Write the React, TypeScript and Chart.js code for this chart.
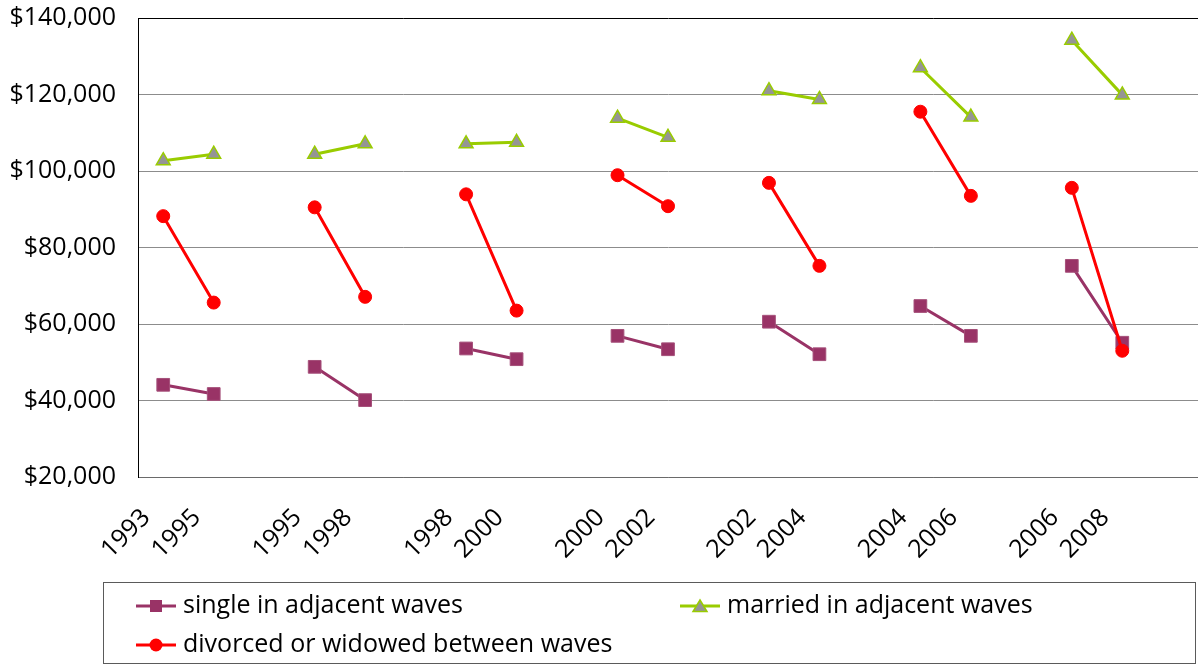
import React, { useEffect, useRef } from 'react';
import { Chart, registerables } from 'chart.js';

Chart.register(...registerables);

// Survey waves, paired; the empty label separates each pair of adjacent waves
const waveLabels = [
  '1993', '1995', '',
  '1995', '1998', '',
  '1998', '2000', '',
  '2000', '2002', '',
  '2002', '2004', '',
  '2004', '2006', '',
  '2006', '2008', '',
];

const singleIncome = [
  44100, 41700, null,
  48800, 40100, null,
  53600, 50800, null,
  56900, 53400, null,
  60600, 52100, null,
  64700, 56900, null,
  75200, 55100, null,
];

const marriedIncome = [
  102700, 104400, null,
  104400, 107100, null,
  107100, 107500, null,
  113800, 108800, null,
  121000, 118700, null,
  127000, 114100, null,
  134200, 119900, null,
];

const divorcedIncome = [
  88200, 65600, null,
  90500, 67100, null,
  93900, 63500, null,
  98900, 90800, null,
  96900, 75200, null,
  115500, 93500, null,
  95600, 53000, null,
];

const seriesNames = [
  'single in adjacent waves',
  'married in adjacent waves',
  'divorced or widowed between waves',
];

const yMin = 20000;
const yMax = 140000;
const yStep = 20000;

const FONT = "'Open Sans', sans-serif";
const PURPLE = '#993366';
const GREEN = '#99CC00';
const TRI_FILL = '#959595';
const RED = '#FF0000';

type MarkerKind = 'rect' | 'triangle' | 'circle';

function LegendIcon({ kind, color }: { kind: MarkerKind; color: string }) {
  return (
    <svg width={40} height={16} style={{ display: 'block' }}>
      <line x1={0} y1={8} x2={40} y2={8} stroke={color} strokeWidth={3} />
      {kind === 'rect' && <rect x={14} y={2} width={12} height={12} fill={color} />}
      {kind === 'circle' && <circle cx={20} cy={8} r={6.5} fill={color} />}
      {kind === 'triangle' && (
        <polygon points="20,2 27,13.5 13,13.5" fill={TRI_FILL} stroke={color} strokeWidth={1.5} />
      )}
    </svg>
  );
}

function LegendEntry({ left, top, kind, color, text }: { left: number; top: number; kind: MarkerKind; color: string; text: string }) {
  return (
    <div style={{ position: 'absolute', left, top, height: 30, display: 'flex', alignItems: 'center', whiteSpace: 'nowrap' }}>
      <div style={{ marginTop: 6 }}>
        <LegendIcon kind={kind} color={color} />
      </div>
      <span style={{ marginLeft: 7, font: `25px ${FONT}`, lineHeight: '30px', color: '#000' }}>{text}</span>
    </div>
  );
}

// Keep the plot area fixed: drop the extra room Chart.js reserves for edge labels
const clearScalePadding = (scale: any) => {
  scale.paddingLeft = 0;
  scale.paddingRight = 0;
  scale.paddingTop = 0;
  scale.paddingBottom = 0;
};

export default function App() {
  const canvasRef = useRef<HTMLCanvasElement | null>(null);

  useEffect(() => {
    document.body.style.margin = '0';
    const canvas = canvasRef.current;
    if (!canvas) return;

    const chart = new Chart(canvas, {
      type: 'line',
      data: {
        labels: waveLabels,
        datasets: [
          {
            label: seriesNames[0],
            data: singleIncome,
            borderColor: PURPLE,
            backgroundColor: PURPLE,
            borderWidth: 3,
            pointStyle: 'rect',
            pointRadius: 9,
            pointBorderWidth: 1,
            pointBackgroundColor: PURPLE,
            pointBorderColor: '#a5507a',
            spanGaps: false,
            order: 1,
          },
          {
            label: seriesNames[1],
            data: marriedIncome,
            borderColor: GREEN,
            backgroundColor: TRI_FILL,
            borderWidth: 3,
            pointStyle: 'triangle',
            pointRadius: 8,
            pointBorderWidth: 1.5,
            pointBackgroundColor: TRI_FILL,
            pointBorderColor: GREEN,
            spanGaps: false,
            order: 2,
          },
          {
            label: seriesNames[2],
            data: divorcedIncome,
            borderColor: RED,
            backgroundColor: RED,
            borderWidth: 3,
            pointStyle: 'circle',
            pointRadius: 6.5,
            pointBorderWidth: 1,
            pointBackgroundColor: RED,
            pointBorderColor: RED,
            spanGaps: false,
            order: 0,
          },
        ],
      },
      options: {
        animation: false,
        responsive: false,
        maintainAspectRatio: false,
        events: [],
        layout: { autoPadding: false, padding: { top: 18, left: 0, right: 0, bottom: 0 } },
        plugins: {
          legend: { display: false },
          tooltip: { enabled: false },
        },
        scales: {
          x: {
            type: 'category',
            offset: true,
            grid: {
              display: true,
              drawOnChartArea: false,
              drawTicks: true,
              tickLength: 56,
              color: 'rgba(0,0,0,0)',
            },
            border: { display: true, color: '#6a6a6a', width: 1 },
            ticks: {
              autoSkip: false,
              maxRotation: 45,
              minRotation: 45,
              padding: -30,
              labelOffset: -17,
              color: '#000',
              font: { family: FONT, size: 25 },
            },
            afterFit: (scale: any) => {
              scale.height = 189;
              clearScalePadding(scale);
            },
          },
          y: {
            min: yMin,
            max: yMax,
            ticks: {
              stepSize: yStep,
              padding: 22,
              color: '#000',
              font: { family: FONT, size: 25 },
              callback: (v: any) => '$' + Number(v).toLocaleString('en-US'),
            },
            grid: {
              drawTicks: false,
              lineWidth: 1,
              color: (ctx: any) => (ctx.tick && ctx.tick.value === yMax ? '#000' : '#8c8c8c'),
            },
            border: { display: true, color: '#000', width: 1 },
            afterFit: (scale: any) => {
              scale.width = 138;
              clearScalePadding(scale);
            },
          },
        },
      },
    });

    return () => {
      chart.destroy();
    };
  }, []);

  return (
    <div style={{ position: 'fixed', left: 0, top: 0, width: 1198, height: 666, background: '#fff' }}>
      <canvas ref={canvasRef} width={1198} height={666} style={{ position: 'absolute', left: 0, top: 0 }} />
      <div
        style={{
          position: 'absolute',
          left: 103,
          top: 582,
          width: 1093,
          height: 82,
          border: '1px solid #5a5a5a',
          boxSizing: 'border-box',
        }}
      />
      <LegendEntry left={136} top={588} kind="rect" color={PURPLE} text={seriesNames[0]} />
      <LegendEntry left={680} top={588} kind="triangle" color={GREEN} text={seriesNames[1]} />
      <LegendEntry left={136} top={627} kind="circle" color={RED} text={seriesNames[2]} />
    </div>
  );
}
